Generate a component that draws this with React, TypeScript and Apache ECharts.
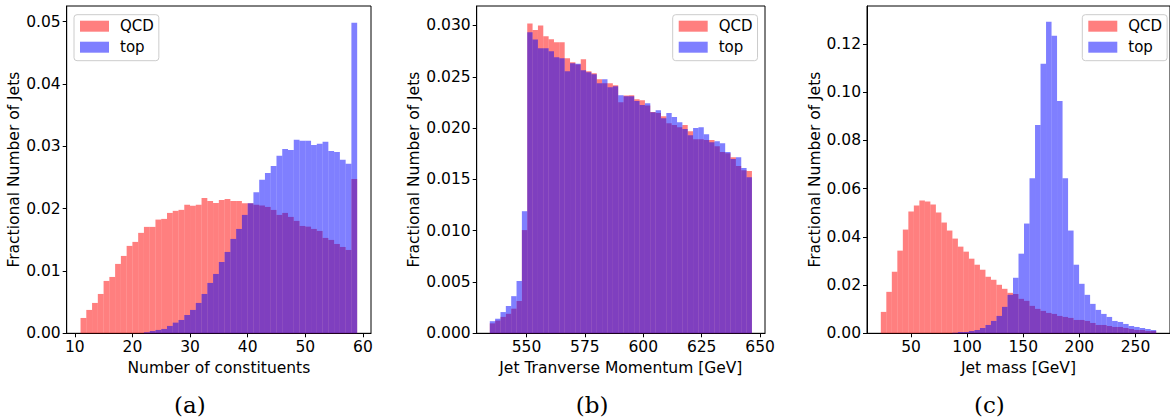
import React, { useEffect, useRef } from "react";
import * as echarts from "echarts";

// ---------- data ----------
const SERIES_NAMES = ["QCD", "top"];

// (a) Number of constituents: 48 bins of width 1 starting at 11
const A_BIN_START = 11;
const A_BIN_WIDTH = 1;
const QCD_A = [
  0.00246, 0.00375, 0.00487, 0.00631, 0.0084, 0.00904, 0.01113, 0.01241, 0.01402, 0.01466,
  0.01611, 0.01707, 0.01707, 0.01824, 0.01835, 0.01931, 0.01964, 0.0198, 0.0206, 0.02044,
  0.0206, 0.02172, 0.02124, 0.02092, 0.0214, 0.02156, 0.02124, 0.02124, 0.02087, 0.02087,
  0.0206, 0.02048, 0.02027, 0.01979, 0.01899, 0.01931, 0.01867, 0.01803, 0.01722, 0.01711,
  0.01674, 0.01642, 0.0153, 0.01498, 0.01433, 0.01385, 0.01337, 0.02477,
];
const TOP_A = [
  0, 0, 0, 0, 0, 0, 0, 0, 0, 0,
  0, 0.00016, 0.00037, 0.00054, 0.0007, 0.00118, 0.00171, 0.00214, 0.00294, 0.00375,
  0.00487, 0.00631, 0.00808, 0.00952, 0.01144, 0.01305, 0.01514, 0.01674, 0.01899, 0.02087,
  0.02263, 0.02461, 0.02573, 0.02685, 0.02846, 0.02958, 0.02942, 0.03103, 0.03087, 0.03087,
  0.03022, 0.03039, 0.03071, 0.02926, 0.0291, 0.02782, 0.02718, 0.04981,
];

// (b) Jet transverse momentum: 49 bins
const B_BIN_START = 534.3;
const B_BIN_WIDTH = 2.29;
const QCD_B = [
  0.00097, 0.00124, 0.0016, 0.0019, 0.0024, 0.00315, 0.01006,
  0.0302, 0.02957, 0.03, 0.02896, 0.02867, 0.02837, 0.02837, 0.02681, 0.02642, 0.02621,
  0.02672, 0.02555, 0.02535, 0.02477, 0.02438, 0.02438, 0.02418, 0.02253, 0.02318, 0.02321,
  0.02282, 0.02272, 0.0222, 0.02158, 0.02146, 0.02116, 0.02048, 0.02029, 0.02009, 0.02029,
  0.0197, 0.01892, 0.01892, 0.01883, 0.01883, 0.01824, 0.01766, 0.01756, 0.01717, 0.0163,
  0.0159, 0.01581,
];
const TOP_B = [
  0.00118, 0.00142, 0.00207, 0.00266, 0.00362, 0.0051, 0.0119,
  0.02935, 0.02864, 0.02779, 0.02779, 0.0275, 0.02691, 0.02681, 0.02555, 0.02633, 0.02626,
  0.02565, 0.02545, 0.02526, 0.02438, 0.02477, 0.02399, 0.02409, 0.02321, 0.02311, 0.02311,
  0.02263, 0.02224, 0.02243, 0.02155, 0.02175, 0.02097, 0.02146, 0.02107, 0.02058, 0.0199,
  0.01931, 0.02, 0.02009, 0.01941, 0.01863, 0.01873, 0.01853, 0.01766, 0.01698, 0.01717,
  0.0161, 0.01522,
];

// (c) Jet mass: 50 bins
const C_BIN_START = 23.1;
const C_BIN_WIDTH = 4.906;
const QCD_C = [
  0.00888, 0.0172, 0.02554, 0.0343, 0.04304, 0.05054, 0.05304, 0.05513, 0.05471, 0.05346,
  0.05013, 0.04596, 0.04263, 0.0393, 0.03596, 0.03388, 0.03096, 0.02846, 0.02638, 0.02346,
  0.02221, 0.02013, 0.01846, 0.01679, 0.0163, 0.01429, 0.01346, 0.01138, 0.01013, 0.00929,
  0.00846, 0.00804, 0.00721, 0.00679, 0.00638, 0.00554, 0.00554, 0.00513, 0.00429, 0.00346,
  0.00346, 0.00304, 0.00263, 0.00263, 0.00221, 0.00179, 0.00138, 0.00138, 0.00096, 0.00096,
];
const TOP_C = [
  0, 0, 0, 0, 0, 0, 0, 0, 0, 0,
  0, 0, 0, 0.0002, 0.00054, 0.00054, 0.00096, 0.00138, 0.00221, 0.00346,
  0.00513, 0.00721, 0.01096, 0.01596, 0.02304, 0.03304, 0.04554, 0.06429, 0.08638, 0.1118,
  0.1293, 0.1235, 0.09638, 0.06429, 0.04263, 0.02846, 0.02054, 0.01596, 0.01221, 0.00971,
  0.00804, 0.00679, 0.00513, 0.00471, 0.00388, 0.00304, 0.00263, 0.00221, 0.00179, 0.00138,
];

// tick labels
const X_TICKS_A = [10, 20, 30, 40, 50, 60];
const Y_TICKS_A = [0, 0.01, 0.02, 0.03, 0.04, 0.05];
const X_TICKS_B = [550, 575, 600, 625, 650];
const Y_TICKS_B = [0, 0.005, 0.01, 0.015, 0.02, 0.025, 0.03];
const X_TICKS_C = [50, 100, 150, 200, 250];
const Y_TICKS_C = [0, 0.02, 0.04, 0.06, 0.08, 0.1, 0.12];

const X_NAMES = ["Number of constituents", "Jet Tranverse Momentum [GeV]", "Jet mass [GeV]"];
const Y_NAME = "Fractional Number of Jets";
const CAPTIONS = ["(a)", "(b)", "(c)"];

// ---------- layout ----------
const FONT = "DejaVu Sans";
const RED = "rgba(255,0,0,0.5)";
const BLUE = "rgba(0,0,255,0.5)";

const toBins = (start: number, width: number, values: number[]) =>
  values.map((v, i) => [start + i * width, start + (i + 1) * width, v]);

const PANELS = [
  {
    grid: { left: 66.7, top: 6, width: 304.3, height: 327.3 },
    xMin: 8.6, xMax: 61.4, yMax: 0.0525, dec: 2,
    xTicks: X_TICKS_A, yTicks: Y_TICKS_A,
    qcd: toBins(A_BIN_START, A_BIN_WIDTH, QCD_A), top: toBins(A_BIN_START, A_BIN_WIDTH, TOP_A),
    legendLeft: 74, captionX: 190,
  },
  {
    grid: { left: 476.7, top: 6, width: 288.3, height: 327.3 },
    xMin: 528.7, xMax: 652.1, yMax: 0.0319, dec: 3,
    xTicks: X_TICKS_B, yTicks: Y_TICKS_B,
    qcd: toBins(B_BIN_START, B_BIN_WIDTH, QCD_B), top: toBins(B_BIN_START, B_BIN_WIDTH, TOP_B),
    legendLeft: 672.7, captionX: 591.7,
  },
  {
    grid: { left: 867, top: 6, width: 308, height: 327.3 },
    xMin: 10.8, xMax: 280.7, yMax: 0.1358, dec: 2,
    xTicks: X_TICKS_C, yTicks: Y_TICKS_C,
    qcd: toBins(C_BIN_START, C_BIN_WIDTH, QCD_C), top: toBins(C_BIN_START, C_BIN_WIDTH, TOP_C),
    legendLeft: 1082.3, captionX: 990,
  },
];

const renderBin = (params: any, api: any) => {
  const p0 = api.coord([api.value(0), api.value(2)]);
  const p1 = api.coord([api.value(1), 0]);
  return {
    type: "rect",
    shape: { x: p0[0], y: p0[1], width: p1[0] - p0[0], height: p1[1] - p0[1] },
    style: { fill: api.visual("color") },
  };
};

export default function App() {
  const ref = useRef<HTMLDivElement>(null);
  useEffect(() => {
    if (!ref.current) return;
    const chart = echarts.init(ref.current, undefined, { renderer: "svg" });
    const grid: any[] = [];
    const xAxis: any[] = [];
    const yAxis: any[] = [];
    const series: any[] = [];
    const legend: any[] = [];
    const graphic: any[] = [];
    PANELS.forEach((p, i) => {
      grid.push({ ...p.grid, show: true, borderColor: "#000", borderWidth: 1, backgroundColor: "transparent" });
      xAxis.push({
        type: "value", gridIndex: i, min: p.xMin, max: p.xMax,
        name: X_NAMES[i], nameLocation: "middle", nameGap: 20,
        nameTextStyle: { color: "#000", fontFamily: FONT, fontSize: 15.5 },
        axisLine: { show: true, onZero: false, lineStyle: { color: "#000", width: 1 } },
        axisTick: { show: true, length: 4, lineStyle: { color: "#000" }, customValues: p.xTicks },
        axisLabel: { color: "#000", fontFamily: FONT, fontSize: 15.5, margin: 6, customValues: p.xTicks },
        splitLine: { show: false },
      });
      yAxis.push({
        type: "value", gridIndex: i, min: 0, max: p.yMax,
        name: Y_NAME, nameLocation: "middle", nameGap: 42, nameRotate: 90,
        nameTextStyle: { color: "#000", fontFamily: FONT, fontSize: 15.5 },
        axisLine: { show: true, onZero: false, lineStyle: { color: "#000", width: 1 } },
        axisTick: { show: true, length: 4, lineStyle: { color: "#000" }, customValues: p.yTicks },
        axisLabel: {
          color: "#000", fontFamily: FONT, fontSize: 15.5, margin: 6, customValues: p.yTicks,
          formatter: (v: number) => v.toFixed(p.dec),
        },
        splitLine: { show: false },
      });
      series.push({
        type: "custom", name: SERIES_NAMES[0], xAxisIndex: i, yAxisIndex: i,
        itemStyle: { color: RED }, renderItem: renderBin, encode: { x: [0, 1], y: 2 }, data: p.qcd,
      });
      series.push({
        type: "custom", name: SERIES_NAMES[1], xAxisIndex: i, yAxisIndex: i,
        itemStyle: { color: BLUE }, renderItem: renderBin, encode: { x: [0, 1], y: 2 }, data: p.top,
      });
      legend.push({
        data: SERIES_NAMES, orient: "vertical", left: p.legendLeft, top: 14.7,
        icon: "rect", itemWidth: 29, itemHeight: 11, itemGap: 6,
        padding: [4, 5, 6, 6], borderColor: "#ccc", borderWidth: 1, borderRadius: 3,
        backgroundColor: "rgba(255,255,255,0.8)", selectedMode: false,
        textStyle: { color: "#000", fontFamily: FONT, fontSize: 15, padding: [0, 0, 0, 6] },
      });
      graphic.push({
        type: "text", left: p.captionX - 16, top: 393,
        style: { text: CAPTIONS[i], font: '23px "DejaVu Serif"', fill: "#000" },
      });
    });
    chart.setOption({ animation: false, grid, xAxis, yAxis, series, legend, graphic });
    return () => chart.dispose();
  }, []);
  return (
    <div
      ref={ref}
      style={{ position: "absolute", left: 0, top: 0, width: 1170, height: 419, background: "#fff" }}
    />
  );
}
